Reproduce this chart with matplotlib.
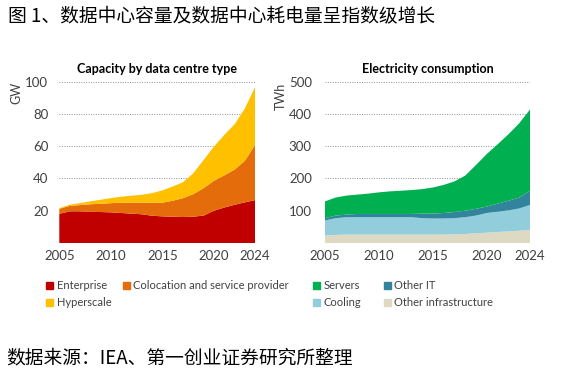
import matplotlib
matplotlib.use('Agg')
import matplotlib.pyplot as plt
from matplotlib.patches import Patch

plt.rcParams['font.family'] = ['Lato', 'DejaVu Sans']

years = list(range(2005, 2025))

# capacity by data centre type (GW)
enterprise = [18.1, 19.6, 19.6, 19.3, 19.2, 19.0, 18.6, 18.2, 17.8, 16.9,
              16.5, 16.3, 16.1, 16.3, 17.0, 20.0, 22.0, 23.7, 25.2, 26.6]
colocation = [3.1, 3.4, 3.9, 4.7, 5.1, 5.7, 6.4, 6.8, 7.2, 8.1,
              8.5, 9.9, 11.7, 14.0, 17.0, 18.6, 19.9, 21.8, 25.8, 34.4]
hyperscale = [0.4, 0.7, 1.2, 1.8, 2.5, 3.1, 3.7, 4.3, 4.9, 5.9,
              7.6, 8.8, 9.9, 13.0, 17.5, 21.2, 25.1, 28.1, 32.5, 35.9]

# electricity consumption (TWh)
other_infra = [23, 25, 26, 26, 26, 26, 26, 26, 26, 26,
               26, 26, 27, 28, 30, 32, 34, 36, 38, 41]
cooling = [47, 52, 54, 54, 54, 54, 54, 54, 54, 51,
           50, 50, 50, 52, 55, 61, 63, 65, 69, 77]
other_it = [7, 8, 8, 10, 10, 10, 10, 10, 10, 14,
            15, 17, 19, 20, 21, 20, 25, 30, 34, 44]
servers = [52, 56, 59, 60, 63, 67, 70, 72, 74, 76,
           81, 87, 95, 109, 136, 163, 184, 206, 230, 252]

xticks = [2005, 2010, 2015, 2020, 2024]
cap_ticks = [20, 40, 60, 80, 100]
elec_ticks = [100, 200, 300, 400, 500]

c_ent, c_col, c_hyp = '#C00000', '#E46C0A', '#FFC000'
c_srv, c_oit, c_cool, c_inf = '#00B050', '#31849B', '#92CDDC', '#DDD9C3'
txt = '#404040'

fig = plt.figure(figsize=(5.78, 3.72), dpi=100)
cjk = ['Noto Sans CJK SC', 'DejaVu Sans']
fig.text(0.013, 0.958, '图 1、数据中心容量及数据中心耗电量呈指数级增长',
         family=cjk, fontsize=13.5, va='center', ha='left')
fig.text(0.011, 0.038, '数据来源：IEA、第一创业证券研究所整理',
         family=cjk, fontsize=13.5, va='center', ha='left')


def style(ax, ticks, top, ylab, ypad, lab_xy):
    ax.set_xlim(2005, 2024)
    ax.set_ylim(0, top)
    ax.set_xticks(xticks)
    ax.set_yticks(ticks)
    for s in ax.spines.values():
        s.set_visible(False)
    ax.tick_params(length=0, labelsize=9.5, labelcolor=txt)
    ax.tick_params(axis='x', pad=5)
    ax.tick_params(axis='y', pad=ypad)
    ax.grid(axis='y', linestyle=(0, (1, 1.5)), color='#909090', linewidth=0.7)
    ax.set_axisbelow(True)
    ax.set_ylabel(ylab, fontsize=9, color=txt)
    ax.yaxis.set_label_coords(*lab_xy)


ax1 = fig.add_axes([0.1026, 0.3468, 0.339, 0.4336])
ax1.stackplot(years, enterprise, colocation, hyperscale,
              colors=[c_ent, c_col, c_hyp], linewidth=0)
style(ax1, cap_ticks, 100, 'GW', 8, (-0.19, 0.93))
ax1.set_title('Capacity by data centre type', fontsize=9, fontweight='bold', pad=6)

ax2 = fig.add_axes([0.5623, 0.3468, 0.3547, 0.4336])
ax2.stackplot(years, other_infra, cooling, other_it, servers,
              colors=[c_inf, c_cool, c_oit, c_srv], linewidth=0)
style(ax2, elec_ticks, 500, 'TWh', 9.5, (-0.185, 0.907))
ax2.set_title('Electricity consumption', fontsize=9, fontweight='bold', pad=6)

leg_kw = dict(frameon=False, fontsize=8, labelcolor=txt, handlelength=0.65,
              handleheight=0.65, handletextpad=0.3, labelspacing=0.55,
              borderaxespad=0, borderpad=0)
fig.legend(handles=[Patch(color=c_ent, label='Enterprise'),
                    Patch(color=c_hyp, label='Hyperscale'),
                    Patch(color=c_col, label='Colocation and service provider')],
           ncol=2, loc='upper left', bbox_to_anchor=(0.08, 0.247),
           columnspacing=1.0, **leg_kw)
fig.legend(handles=[Patch(color=c_srv, label='Servers'),
                    Patch(color=c_cool, label='Cooling'),
                    Patch(color=c_oit, label='Other IT'),
                    Patch(color=c_inf, label='Other infrastructure')],
           ncol=2, loc='upper left', bbox_to_anchor=(0.541, 0.247),
           columnspacing=2.05, **leg_kw)

fig.savefig('out.png', dpi=100)
